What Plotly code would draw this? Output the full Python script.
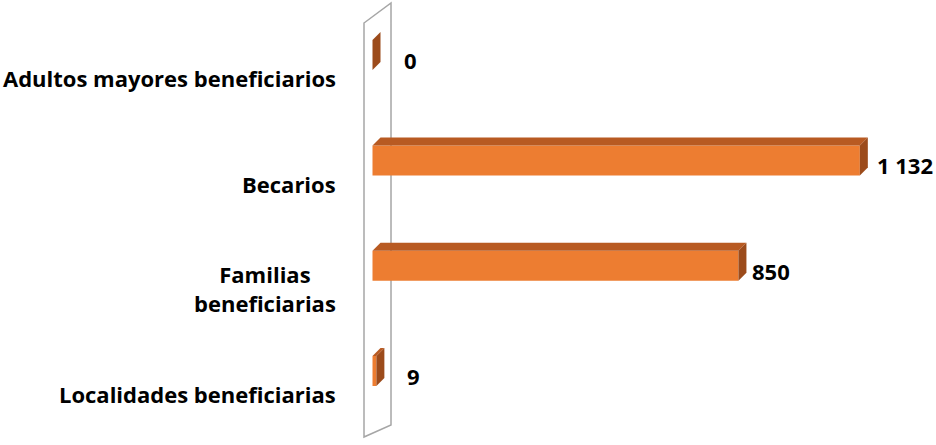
import plotly.graph_objects as go

# ---- data ----
categories = ["Localidades beneficiarias", "Familias<br>beneficiarias", "Becarios", "Adultos mayores beneficiarios"]
values = [9, 850, 1132, 0]
value_labels = ["9", "850", "1 132", "0"]

# ---- style ----
W, H = 936, 445
PX_PER_UNIT_X = 0.4305
X0_PX = 372.5
PX_PER_CAT = 105.3
Y_LOW_PX = 371  # pixel of the lowest category centre
FRONT = "#ED7D31"
TOP = "#B85A22"
SIDE = "#9C4B1B"
FONT = "Open Sans"
FS = 22
label_dx = [29, 12, 15, 29]

xmin = -X0_PX / PX_PER_UNIT_X
xmax = (W - X0_PX) / PX_PER_UNIT_X
ymin = -(H - Y_LOW_PX) / PX_PER_CAT
ymax = ymin + H / PX_PER_CAT

bar_w = 30 / PX_PER_CAT
h = bar_w / 2
dx = 8 / PX_PER_UNIT_X
dy = 8 / PX_PER_CAT

pos = list(range(len(categories)))

fig = go.Figure()
fig.add_trace(go.Bar(x=values, y=pos, orientation="h", width=bar_w,
                     marker=dict(color=FRONT, line=dict(width=0)), hoverinfo="skip"))

for v, c in zip(values, pos):
    # top face
    fig.add_trace(go.Scatter(
        x=[0, v, v + dx, dx, 0], y=[c + h, c + h, c + h + dy, c + h + dy, c + h],
        fill="toself", fillcolor=TOP, mode="lines", line=dict(width=0), hoverinfo="skip"))
    # side face
    fig.add_trace(go.Scatter(
        x=[v, v, v + dx, v + dx, v], y=[c - h, c + h, c + h + dy, c - h + dy, c - h],
        fill="toself", fillcolor=SIDE, mode="lines", line=dict(width=0), hoverinfo="skip"))

# value labels
for v, c, t, sx in zip(values, pos, value_labels, label_dx):
    fig.add_annotation(x=v, y=c, text=t, showarrow=False, xanchor="left", yanchor="middle",
                       xshift=sx, yshift=-5,
                       font=dict(family=FONT, size=FS, color="#000000", weight="bold"))

# category labels
for c, t in zip(pos, categories):
    fig.add_annotation(x=338 / W, xref="paper", y=c - 0.22, text=t, showarrow=False,
                       xanchor="right", yanchor="middle", align="center",
                       font=dict(family=FONT, size=FS, color="#000000", weight="bold"))

# side wall
def px(xp, yp):
    return f"{xp / W:.5f},{1 - yp / H:.5f}"

wall = f"M {px(364, 23)} L {px(391, 3)} L {px(391, 425)} L {px(364, 437)} Z"
fig.add_shape(type="path", path=wall, xref="paper", yref="paper", layer="below",
              line=dict(color="#A6A6A6", width=1.5))

fig.update_layout(
    width=W, height=H, margin=dict(l=0, r=0, t=0, b=0),
    plot_bgcolor="white", paper_bgcolor="white", showlegend=False,
    xaxis=dict(range=[xmin, xmax], visible=False),
    yaxis=dict(range=[ymin, ymax], visible=False),
)

fig.write_html("out.html", config={"displayModeBar": False},
               post_script="document.body.style.margin='0';")
